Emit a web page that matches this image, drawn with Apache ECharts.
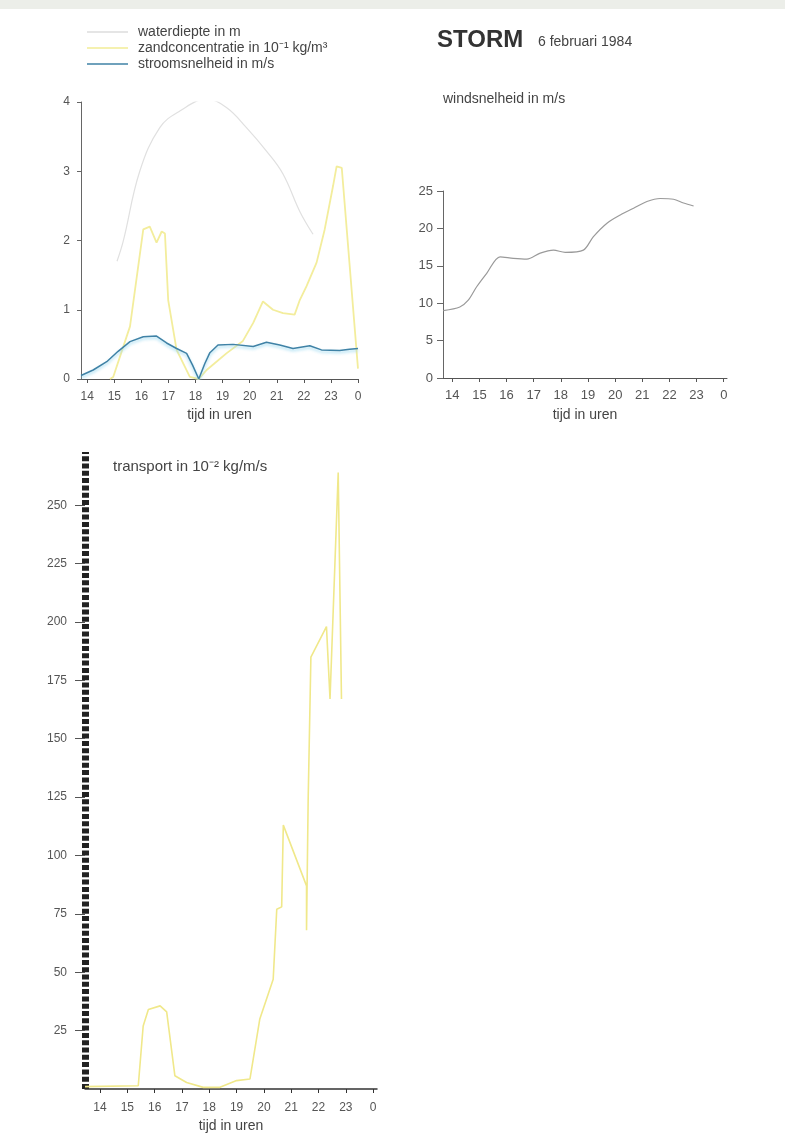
<!DOCTYPE html>
<html><head><meta charset="utf-8">
<script src="https://cdn.jsdelivr.net/npm/echarts@6/dist/echarts.min.js"></script>
<style>html,body{margin:0;padding:0;background:#fff}#c{width:785px;height:1138px}</style>
</head><body><div id="c"></div>
<script>
// ---- data (hours of 6 Feb 1984; 24 = 0h) ----
var hourTicks = [14,15,16,17,18,19,20,21,22,23,24];

var depthHours = [15.1, 15.33, 15.94, 16.68, 17.42, 18.41, 19.14, 19.88, 20.62, 21.23, 21.85, 22.34];
var depthValues = [1.7, 1.99, 3.0, 3.63, 3.87, 4.04, 3.92, 3.63, 3.29, 2.96, 2.42, 2.09];

var sandHours = [14.84, 14.96, 15.58, 16.07, 16.31, 16.56, 16.75, 16.87, 16.99, 17.30, 17.79, 18.12, 18.41, 19.14, 19.75, 20.13, 20.49, 20.86, 21.23, 21.66, 21.85, 22.10, 22.47, 22.77, 23.08, 23.21, 23.40, 24.0];
var sandValues = [0.0, 0.03, 0.76, 2.16, 2.2, 1.97, 2.13, 2.1, 1.14, 0.42, 0.03, 0.0, 0.13, 0.37, 0.55, 0.81, 1.12, 1.0, 0.95, 0.93, 1.14, 1.34, 1.68, 2.16, 2.79, 3.07, 3.05, 0.15];

var currentHours = [13.77, 14.22, 14.72, 15.14, 15.58, 16.07, 16.56, 16.93, 17.30, 17.67, 17.89, 18.12, 18.34, 18.53, 18.83, 19.39, 20.13, 20.62, 21.11, 21.60, 22.22, 22.65, 23.32, 23.69, 24.0];
var currentValues = [0.05, 0.13, 0.25, 0.40, 0.54, 0.61, 0.62, 0.52, 0.44, 0.37, 0.2, 0.0, 0.22, 0.38, 0.49, 0.50, 0.47, 0.53, 0.49, 0.44, 0.48, 0.42, 0.41, 0.43, 0.44];

var windHours = [13.67, 14.28, 14.59, 14.90, 15.27, 15.76, 16.25, 16.75, 17.24, 17.73, 18.16, 18.83, 19.20, 19.70, 20.19, 20.68, 21.17, 21.66, 22.15, 22.52, 22.89];
var windValues = [9.0, 9.5, 10.4, 12.2, 14.0, 16.2, 16.0, 15.9, 16.7, 17.1, 16.8, 17.1, 18.9, 20.7, 21.8, 22.7, 23.6, 24.0, 23.9, 23.4, 23.0];

var transportHours = [13.45, 15.40, 15.58, 15.77, 16.20, 16.44, 16.74, 17.17, 17.78, 18.39, 19.00, 19.49, 19.85, 20.34, 20.47, 20.65, 20.71, 21.56, 21.56, 21.62, 21.72, 22.29, 22.42, 22.72, 22.84];
var transportValues = [1, 1.4, 27, 34, 35.6, 33, 5.7, 2.8, 0.7, 0.7, 3.6, 4.3, 30, 47, 77, 78, 113, 87, 68, 124, 185, 198, 167, 264, 167];

var transportTicks = [25,50,75,100,125,150,175,200,225,250];

function zip(a, b) { return a.map(function (v, i) { return [v, b[i]]; }); }

var FONT = 'Liberation Sans, Arial, sans-serif';
var hourFmt = function (v) { return String(Math.round(v) % 24); };

function xAxisDef(gi, min, max, lineColor, lineWidth, labelSize, margin, nameGap) {
  return {
    type: 'value', gridIndex: gi, min: min, max: max,
    name: 'tijd in uren', nameLocation: 'middle', nameGap: nameGap,
    nameTextStyle: { fontFamily: FONT, fontSize: 14, color: '#444' },
    axisLine: { show: true, onZero: false, lineStyle: { color: lineColor, width: lineWidth } },
    axisTick: { show: true, customValues: hourTicks, length: 4, lineStyle: { color: lineColor } },
    axisLabel: { show: true, customValues: hourTicks, formatter: hourFmt, margin: margin,
      fontFamily: FONT, fontSize: labelSize, color: '#555' },
    splitLine: { show: false }
  };
}

var chart = echarts.init(document.getElementById('c'), null, { renderer: 'canvas' });
chart.setOption({
  backgroundColor: '#ffffff',
  animation: false,
  graphic: [
    { type: 'rect', shape: { x: 0, y: 0, width: 785, height: 9 }, style: { fill: '#eceee9' } }
  ],
  title: [
    { text: 'STORM', left: 437, top: 28, padding: 0,
      textStyle: { fontFamily: FONT, fontSize: 24, fontWeight: 'bold', color: '#333' } },
    { text: '6 februari 1984', left: 538, top: 35, padding: 0,
      textStyle: { fontFamily: FONT, fontSize: 14, fontWeight: 'normal', color: '#444' } },
    { text: 'windsnelheid in m/s', left: 443, top: 92, padding: 0,
      textStyle: { fontFamily: FONT, fontSize: 14, fontWeight: 'normal', color: '#444' } },
    { text: 'transport in 10⁻² kg/m/s', left: 113, top: 459, padding: 0,
      textStyle: { fontFamily: FONT, fontSize: 15, fontWeight: 'normal', color: '#444' } }
  ],
  legend: {
    orient: 'vertical', left: 87, top: 24, padding: 0,
    icon: 'rect', itemWidth: 41, itemHeight: 1.5, itemGap: 0,
    textStyle: { fontFamily: FONT, fontSize: 14, color: '#444', lineHeight: 16, padding: [0, 0, 0, 5] },
    data: ['waterdiepte in m', 'zandconcentratie in 10⁻¹ kg/m³', 'stroomsnelheid in m/s']
  },
  grid: [
    { left: 81, top: 102, width: 277, height: 277 },
    { left: 443, top: 191, width: 284, height: 187 },
    { left: 85, top: 452, width: 292, height: 637 }
  ],
  xAxis: [
    xAxisDef(0, 13.77, 24.0, '#555', 1, 12, 12, 29),
    xAxisDef(1, 13.66, 24.12, '#555', 1, 13, 11, 30),
    xAxisDef(2, 13.45, 24.14, '#333', 1.5, 12, 13, 30)
  ],
  yAxis: [
    { type: 'value', gridIndex: 0, min: 0, max: 4, interval: 1,
      axisLine: { show: true, lineStyle: { color: '#666', width: 1 } },
      axisTick: { show: true, length: 4, lineStyle: { color: '#666' } },
      axisLabel: { margin: 11, fontFamily: FONT, fontSize: 12, color: '#555' },
      splitLine: { show: false } },
    { type: 'value', gridIndex: 1, min: 0, max: 25, interval: 5,
      axisLine: { show: true, lineStyle: { color: '#666', width: 1 } },
      axisTick: { show: true, length: 6, lineStyle: { color: '#666' } },
      axisLabel: { margin: 10, fontFamily: FONT, fontSize: 13, color: '#555' },
      splitLine: { show: false } },
    { type: 'value', gridIndex: 2, min: 0, max: 272.8,
      axisLine: { show: true, lineStyle: { color: '#222', width: 7, type: [5, 2.3], cap: 'butt' } },
      axisTick: { show: true, customValues: transportTicks, length: 10, lineStyle: { color: '#555' } },
      axisLabel: { customValues: transportTicks, margin: 18, fontFamily: FONT, fontSize: 12, color: '#555' },
      splitLine: { show: false } }
  ],
  series: [
    { name: 'waterdiepte in m', type: 'line', xAxisIndex: 0, yAxisIndex: 0,
      data: zip(depthHours, depthValues), smooth: 0.4, showSymbol: false, color: '#dcdcdc',
      lineStyle: { color: '#e0e0e0', width: 1.2 } },
    { name: 'zandconcentratie in 10⁻¹ kg/m³', type: 'line', xAxisIndex: 0, yAxisIndex: 0,
      data: zip(sandHours, sandValues), showSymbol: false, color: '#f2ec96',
      lineStyle: { color: '#f3ed9c', width: 1.8 } },
    { name: 'stroomsnelheid in m/s', type: 'line', xAxisIndex: 0, yAxisIndex: 0,
      data: zip(currentHours, currentValues), showSymbol: false, color: '#3f82a6',
      lineStyle: { color: '#3f82a6', width: 1.5, shadowColor: 'rgba(150,215,240,0.9)', shadowBlur: 3, shadowOffsetY: 2 } },
    { name: 'windsnelheid', type: 'line', xAxisIndex: 1, yAxisIndex: 1,
      data: zip(windHours, windValues), smooth: 0.3, showSymbol: false, color: '#9a9a9a',
      lineStyle: { color: '#9a9a9a', width: 1.2 } },
    { name: 'transport', type: 'line', xAxisIndex: 2, yAxisIndex: 2,
      data: zip(transportHours, transportValues), showSymbol: false, color: '#f2ea8e',
      lineStyle: { color: '#f0e88a', width: 1.6 } }
  ]
});
</script>
</body></html>
